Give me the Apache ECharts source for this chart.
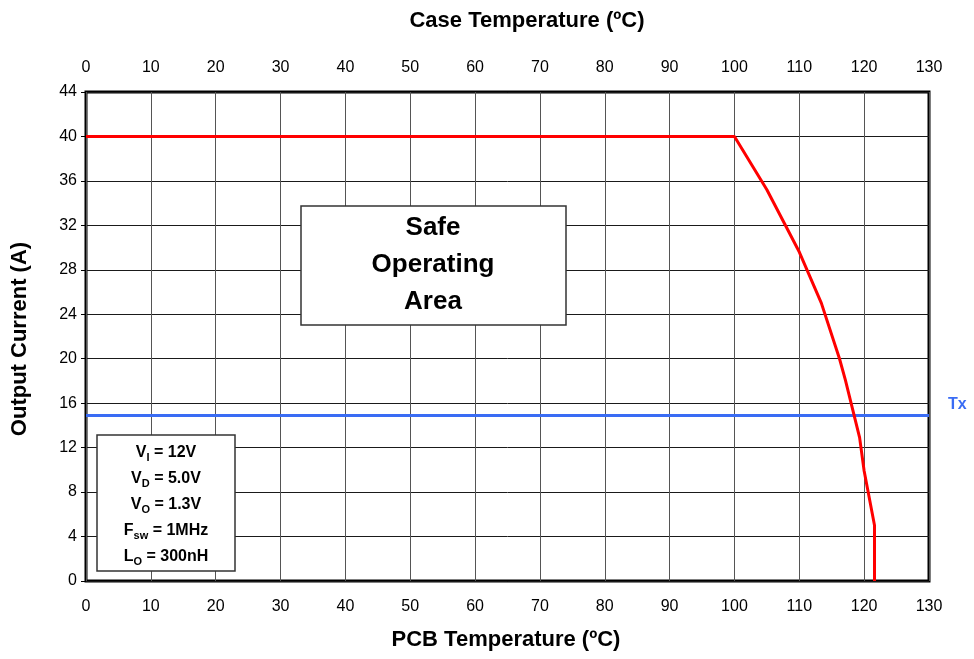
<!DOCTYPE html>
<html>
<head>
<meta charset="utf-8">
<script src="https://cdn.jsdelivr.net/npm/echarts@6/dist/echarts.min.js"></script>
<style>
html,body{margin:0;padding:0;background:#fff;}
#chart{width:974px;height:659px;}
</style>
</head>
<body>
<div id="chart"></div>
<script>
// Data
const xTicks = [0,10,20,30,40,50,60,70,80,90,100,110,120,130];
const yTicks = [0,4,8,12,16,20,24,28,32,36,40,44];
const deratingTemp = [0, 100, 105, 110, 113.4, 116.2, 117.1, 119.3, 120.0, 121.6, 121.6];
const deratingCurrent = [40, 40, 35.2, 29.6, 25.0, 20.0, 18.1, 12.9, 9.9, 5.0, 0];
const txTemp = [0, 130];
const txCurrent = [14.9, 14.9];
const conditions = [
  ['V', 'I', ' = 12V'],
  ['V', 'D', ' = 5.0V'],
  ['V', 'O', ' = 1.3V'],
  ['F', 'sw', ' = 1MHz'],
  ['L', 'O', ' = 300nH']
];
const soaLines = ['Safe', 'Operating', 'Area'];

const FONT = '"Liberation Sans", Arial, sans-serif';
const chart = echarts.init(document.getElementById('chart'), null, {renderer: 'canvas'});

const gridLeft = 86, gridTop = 92, gridRight = 45, gridBottom = 78;

const condText = conditions.map(c => '{m|' + c[0] + '}{s|' + c[1] + '}{m|' + c[2] + '}').join('\n');

const option = {
  backgroundColor: '#ffffff',
  animation: false,
  grid: {left: gridLeft, top: gridTop, right: gridRight, bottom: gridBottom, show: true,
         borderColor: '#000', borderWidth: 3, backgroundColor: 'transparent'},
  xAxis: [
    {type: 'value', position: 'bottom', min: 0, max: 130, interval: 10,
     axisLine: {show: false}, axisTick: {show: false},
     axisLabel: {color: '#000', fontSize: 16, fontFamily: FONT, margin: 18},
     splitLine: {show: true, lineStyle: {color: '#555', width: 1}}},
    {type: 'value', position: 'top', min: 0, max: 130, interval: 10,
     axisLine: {show: false}, axisTick: {show: false},
     axisLabel: {color: '#000', fontSize: 16, fontFamily: FONT, margin: 16},
     splitLine: {show: false}}
  ],
  yAxis: [
    {type: 'value', min: 0, max: 44, interval: 4,
     axisLine: {show: false},
     axisTick: {show: true, inside: false, length: 5, lineStyle: {color: '#000', width: 1}},
     axisLabel: {color: '#000', fontSize: 16, fontFamily: FONT, margin: 9},
     splitLine: {show: true, lineStyle: {color: '#1a1a1a', width: 1}}}
  ],
  series: [
    {type: 'line', name: 'Tx', data: txTemp.map((t, i) => [t, txCurrent[i]]),
     symbol: 'none', lineStyle: {color: '#3a6cf4', width: 3}, z: 3,
     endLabel: {show: true, formatter: 'Tx', color: '#3a6cf4', fontWeight: 'bold',
                fontSize: 16, fontFamily: FONT, distance: 19, offset: [0, -11]}},
    {type: 'line', name: 'Derating', data: deratingTemp.map((t, i) => [t, deratingCurrent[i]]),
     symbol: 'none', lineStyle: {color: '#ff0000', width: 3}, z: 4}
  ],
  graphic: [
    {type: 'text', x: 527, y: 21, style: {text: 'Case Temperature (ºC)',
      font: 'bold 22px ' + FONT, fill: '#000', align: 'center', verticalAlign: 'middle'}},
    {type: 'text', x: 506, y: 640, style: {text: 'PCB Temperature (ºC)',
      font: 'bold 22px ' + FONT, fill: '#000', align: 'center', verticalAlign: 'middle'}},
    {type: 'text', x: 20, y: 339, rotation: Math.PI / 2,
      style: {text: 'Output Current (A)', font: 'bold 22px ' + FONT, fill: '#000',
              align: 'center', verticalAlign: 'middle'}},
    {type: 'rect', shape: {x: 301, y: 206, width: 265, height: 119},
     style: {fill: '#fff', stroke: '#333', lineWidth: 1.5}, z: 10},
    {type: 'text', x: 433, y: 265, z: 11,
     style: {text: soaLines.join('\n'), font: 'bold 26px ' + FONT, fill: '#000',
             align: 'center', verticalAlign: 'middle', lineHeight: 37}},
    {type: 'rect', shape: {x: 97, y: 435, width: 138, height: 136},
     style: {fill: '#fff', stroke: '#333', lineWidth: 1.5}, z: 10},
    {type: 'text', x: 166, y: 505, z: 11,
     style: {text: condText, align: 'center', verticalAlign: 'middle',
             rich: {
               m: {fontFamily: FONT, fontWeight: 'bold', fontSize: 16, lineHeight: 26, fill: '#000', verticalAlign: 'middle'},
               s: {fontFamily: FONT, fontWeight: 'bold', fontSize: 11, lineHeight: 26, fill: '#000', verticalAlign: 'middle', padding: [9,0,0,0]}
             }}}
  ]
};
chart.setOption(option);
</script>
</body>
</html>
